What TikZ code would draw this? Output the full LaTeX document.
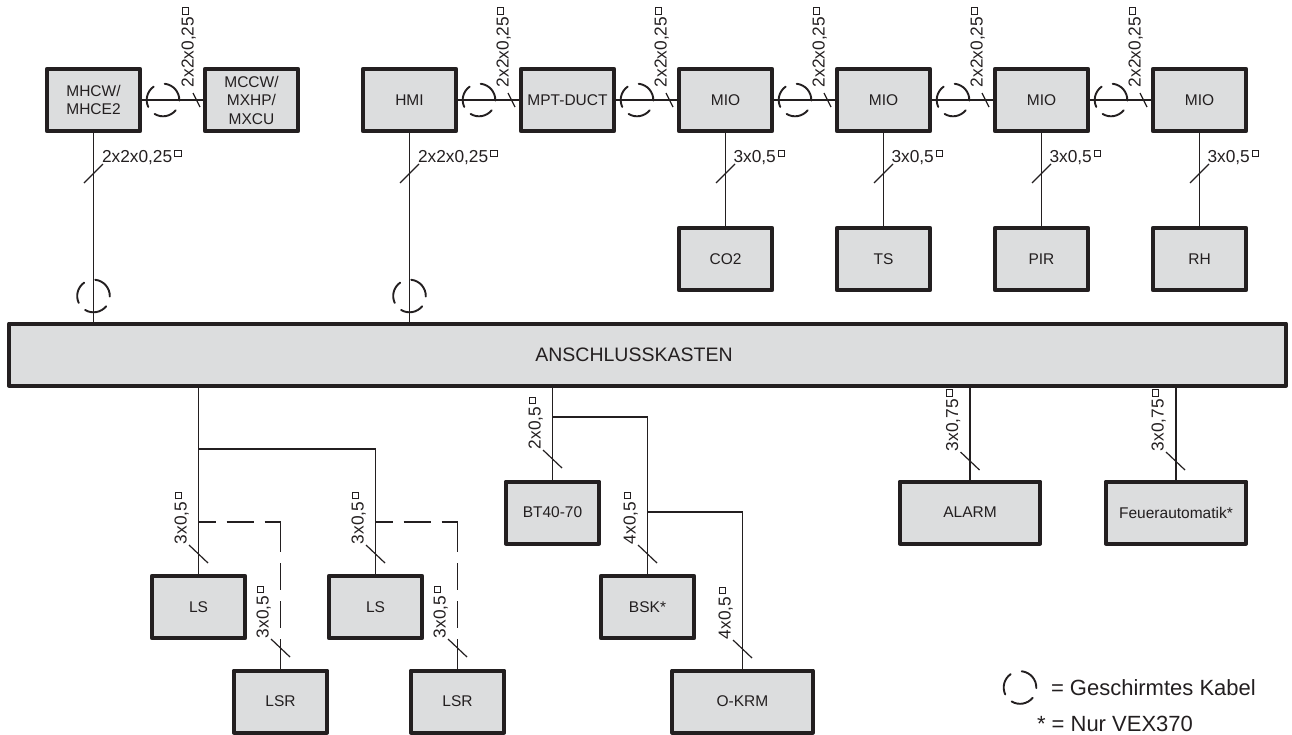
\documentclass[tikz,border=0pt]{standalone}
\usepackage{fontspec}
\setmainfont{Liberation Sans}
\usetikzlibrary{positioning, calc}
\definecolor{ink}{HTML}{231F20}
\definecolor{boxgrey}{HTML}{DCDDDE}
\tikzstyle{Box} = [
draw=ink, fill=boxgrey, text=ink,
line width=4pt, line join=round,
outer sep=0pt, inner sep=0pt, align=center,
minimum width=93.5pt, minimum height=62pt,
font=\fontsize{15.5}{18.5}\selectfont]
\tikzstyle{WideBox} = [Box, minimum width=140.5pt]
\tikzstyle{Wire} = [draw=ink, line width=1.8pt]
\tikzstyle{Slash} = [draw=ink, line width=1.2pt]
\tikzstyle{Screen} = [draw=ink, line width=1.9pt, line cap=round]
\tikzstyle{Cable} = [text=ink, inner sep=0pt, outer sep=0pt,
font=\fontsize{17.3}{17.3}\selectfont]
\tikzstyle{Up} = [Cable, rotate=90, anchor=base west]
\tikzstyle{Side} = [Cable, anchor=base west]
\tikzstyle{Legend} = [text=ink, inner sep=0pt, outer sep=0pt, anchor=base west,
font=\fontsize{22}{22}\selectfont]
\newcommand{\Sq}{\kern2.2pt\raisebox{5.6pt}{\setlength{\fboxsep}{0pt}\setlength{\fboxrule}{1pt}\fbox{\rule{0pt}{5.4pt}\rule{5.4pt}{0pt}}}}
\newcommand{\ScreenAt}[1]{
    \draw[Screen] (#1) ++(125:16.3pt) arc[start angle=125, end angle=205, radius=16.3pt];
    \draw[Screen] (#1) ++(84:16.3pt) arc[start angle=84, end angle=-2, radius=16.3pt];
    \draw[Screen] (#1) ++(239:16.3pt) arc[start angle=239, end angle=321, radius=16.3pt];
}
\begin{document}
\begin{tikzpicture}[x=1pt, y=-1pt]
    \useasboundingbox (0,0) rectangle (1292,734);

    \node [Box] (mhcw) at (93.5,100) {MHCW/\\MHCE2};
    \node [Box, right =64.5pt of mhcw] (mccw) {MCCW/\\MXHP/\\MXCU};
    \node [Box] (hmi) at (409.5,100) {HMI};
    \node [Box, right =64.5pt of hmi] (mpt) {MPT-DUCT};
    \node [Box, right =64.5pt of mpt] (mioa) {MIO};
    \node [Box, right =64.5pt of mioa] (miob) {MIO};
    \node [Box, right =64.5pt of miob] (mioc) {MIO};
    \node [Box, right =64.5pt of mioc] (miod) {MIO};
    \node [Box, below =97pt of mioa] (co) {CO2};
    \node [Box, below =97pt of miob] (ts) {TS};
    \node [Box, below =97pt of mioc] (pir) {PIR};
    \node [Box, below =97pt of miod] (rh) {RH};

    \node [Box, minimum width=1277pt, font=\fontsize{19.5}{22}\selectfont] (kasten) at (647.5,354.5) {\kern-27pt\raisebox{-1.5pt}{ANSCHLUSSKASTEN}};

    \node [Box] (lsa) at (198.5,607) {LS};
    \node [Box, right =83.5pt of lsa] (lsb) {LS};
    \node [Box] (lsra) at (280.5,701.5) {LSR};
    \node [Box] (lsrb) at (457.5,701.5) {LSR};
    \node [Box] (bt) at (552.5,512.5) {BT40-70};
    \node [Box] (bsk) at (647.5,607) {BSK*};
    \node [WideBox] (okrm) at (742.5,701.5) {O-KRM};
    \node [WideBox] (alarm) at (970,512.5) {ALARM};
    \node [WideBox] (feuer) at (1176,512.5) {Feuerautomatik*};

    \draw[Wire] (mhcw) -- (mccw);
    \draw[Wire] (hmi) -- (mpt);
    \draw[Wire] (mpt) -- (mioa);
    \draw[Wire] (mioa) -- (miob);
    \draw[Wire] (miob) -- (mioc);
    \draw[Wire] (mioc) -- (miod);
    \draw[Wire] (mioa) -- (co);
    \draw[Wire] (miob) -- (ts);
    \draw[Wire] (mioc) -- (pir);
    \draw[Wire] (miod) -- (rh);
    \draw[Wire] (mhcw.south) -- (mhcw.south |- kasten.north);
    \draw[Wire] (hmi.south) -- (hmi.south |- kasten.north);

    \coordinate (forkls) at (lsa.north |- 0,449);
    \coordinate (forkbt) at (bt.north |- 0,417);
    \coordinate (forkbsk) at (bsk.north |- 0,512);
    \draw[Wire] (kasten.south -| lsa.north) -- (lsa.north);
    \draw[Wire] (forkls) -| (lsb.north);
    \draw[Wire] (kasten.south -| bt.north) -- (bt.north);
    \draw[Wire] (forkbt) -| (bsk.north);
    \draw[Wire] (forkbsk) -| (okrm.north);
    \draw[Wire] (kasten.south -| alarm.north) -- (alarm.north);
    \draw[Wire] (kasten.south -| feuer.north) -- (feuer.north);

    \coordinate (dasha) at (lsa.north |- 0,522);
    \coordinate (dashb) at (lsb.north |- 0,522);
    \draw[Wire, dash pattern=on 17pt off 11pt on 27pt off 11pt on 17pt] (dasha) -- (dasha -| lsra.north);
    \draw[Wire, dash pattern=on 30pt off 11pt on 27pt off 11pt on 27pt off 11pt on 30pt] (dasha -| lsra.north) -- (lsra.north);
    \draw[Wire, dash pattern=on 17pt off 11pt on 27pt off 11pt on 17pt] (dashb) -- (dashb -| lsrb.north);
    \draw[Wire, dash pattern=on 30pt off 11pt on 27pt off 11pt on 27pt off 11pt on 30pt] (dashb -| lsrb.north) -- (lsrb.north);

    %horizontal links
    \foreach \x in {196.5,511.5,669.5,827.5,985.5,1143.5}
        \draw[Slash] (\x-3.5,93) -- (\x+3.5,107);
    \foreach \x/\n in {193.5/a,508.5/b,666.5/c,824.5/d,982.5/e,1140.5/f}
        \node [Up] (top\n) at (\x,87) {2x2x0,25\Sq};
    \foreach \x in {163,479,637,795,953,1111}{
        \ScreenAt{\x,100}
    }

    %down from the top row
    \foreach \x/\n in {93.5/a,409.5/b}{
        \draw[Slash] (\x-9.5,183) -- (\x+9.5,164);
        \node [Side] (side\n) at (\x+8.5,162) {2x2x0,25\Sq};
        \ScreenAt{\x,296}
    }
    \foreach \x/\n in {725.5/a,883.5/b,1041.5/c,1199.5/d}{
        \draw[Slash] (\x-9.5,183) -- (\x+9.5,164);
        \node [Side] (sens\n) at (\x+8,162) {3x0,5\Sq};
    }

    %below the box
    \foreach \x/\y/\size/\n in {198.5/545/{3x0,5}/a, 375.5/545/{3x0,5}/b, 280.5/639/{3x0,5}/c, 457.5/639/{3x0,5}/d,
        552.5/450/{2x0,5}/e, 647.5/545/{4x0,5}/f, 742.5/640/{4x0,5}/g, 970/452/{3x0,75}/h, 1175.5/452/{3x0,75}/i}{
        \draw[Slash] (\x-9.5,\y) -- (\x+9.5,\y+18);
        \node [Up] (low\n) at (\x-12,\y-1) {\size\Sq};
    }

    \ScreenAt{1020,687.5}
    \node [Legend] (legendscreen) at (1051,695) {= Geschirmtes Kabel};
    \node [Legend] (legendstar) at (1037,731) {* = Nur VEX370};
\end{tikzpicture}
\end{document}
